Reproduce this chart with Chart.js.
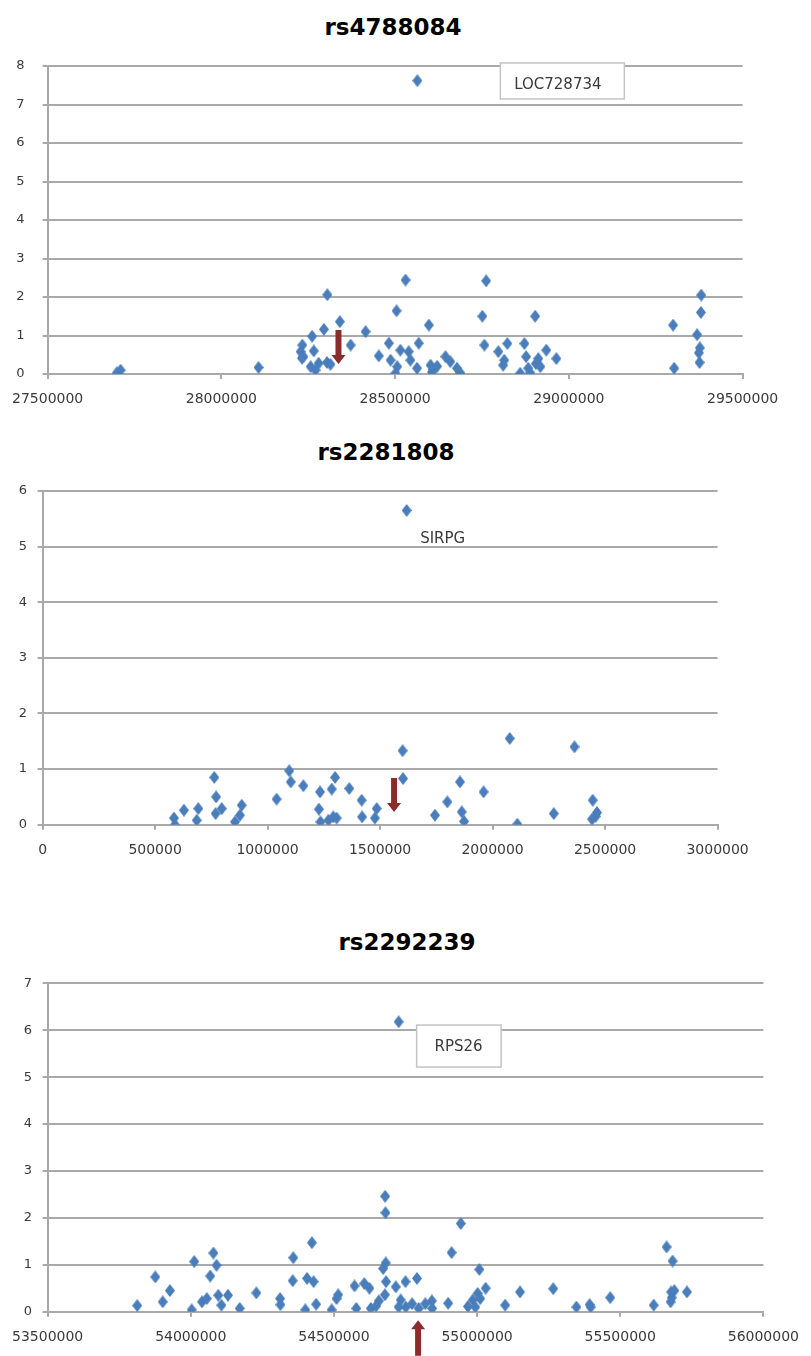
<!DOCTYPE html>
<html>
<head>
<meta charset="utf-8">
<script src="https://cdn.jsdelivr.net/npm/chart.js@4.4.0/dist/chart.umd.min.js"></script>
<style>
  body { margin: 0; background: #fff; width: 811px; height: 1356px; position: relative; overflow: hidden; }
  canvas { position: absolute; left: 0; }
  .title { position: absolute; font: bold 23px "DejaVu Sans", sans-serif; color: #000;
           transform: translate(-50%, -50%); white-space: nowrap; }
</style>
</head>
<body>
<div class="title" style="left:393px; top:27px">rs4788084</div>
<canvas id="c1" width="811" height="415" style="top:0px"></canvas>
<div class="title" style="left:386px; top:452px">rs2281808</div>
<canvas id="c2" width="811" height="440" style="top:420px"></canvas>
<div class="title" style="left:407px; top:942px">rs2292239</div>
<canvas id="c3" width="811" height="496" style="top:860px"></canvas>
<script>
// rs4788084 region (chr16)
const rs4788084Pos = [27699000, 27710000, 28107000, 28228000, 28233000, 28232000, 28236000, 28261000,
  28266000, 28257000, 28271000, 28280000, 28295000, 28305000, 28304000, 28314000, 28341000, 28372000,
  28415000, 28453000, 28482000, 28487000, 28504000, 28506000, 28501000, 28515000, 28530000, 28539000,
  28544000, 28563000, 28568000, 28597000, 28602000, 28606000, 28621000, 28610000, 28645000, 28659000,
  28678000, 28688000, 28751000, 28762000, 28757000, 28797000, 28814000, 28811000, 28823000, 28860000,
  28872000, 28877000, 28883000, 28889000, 28903000, 28905000, 28912000, 28918000, 28935000, 28964000,
  29300000, 29303000, 29369000, 29374000, 29376000, 29377000, 29380000, 29381000, 28564000];
const rs4788084LogP = [0.03, 0.10, 0.17, 0.58, 0.75, 0.41, 0.45, 0.98,
  0.60, 0.19, 0.10, 0.28, 1.16, 2.06, 0.30, 0.25, 1.36, 0.75,
  1.10, 0.47, 0.80, 0.36, 1.64, 0.19, 0.02, 0.62, 2.44, 0.58,
  0.36, 0.15, 0.80, 1.27, 0.23, 0.05, 0.20, 0.12, 0.45, 0.32,
  0.15, 0.02, 1.50, 2.42, 0.75, 0.58, 0.36, 0.23, 0.79, 0.02,
  0.79, 0.45, 0.15, 0.03, 1.50, 0.27, 0.40, 0.19, 0.62, 0.40,
  1.27, 0.15, 1.02, 0.55, 0.30, 0.68, 1.60, 2.05, 7.62];

// rs2281808 region (chr20)
const rs2281808Pos = [584000, 588000, 628000, 692000, 685000, 763000, 771000, 796000, 769000, 855000,
  885000, 877000, 1040000, 1096000, 1103000, 1159000, 1233000, 1228000, 1235000, 1300000, 1285000,
  1292000, 1270000, 1307000, 1363000, 1418000, 1420000, 1477000, 1485000, 1600000, 1602000, 1744000,
  1799000, 1855000, 1863000, 1873000, 1960000, 2076000, 2110000, 2272000, 2364000, 2445000, 2442000,
  2464000, 2458000, 1618000];
const rs2281808LogP = [0.12, 0.00, 0.26, 0.29, 0.08, 0.85, 0.50, 0.29, 0.20, 0.05,
  0.35, 0.17, 0.46, 0.97, 0.77, 0.70, 0.59, 0.28, 0.05, 0.85, 0.64,
  0.14, 0.08, 0.12, 0.65, 0.44, 0.14, 0.12, 0.29, 1.33, 0.83, 0.17,
  0.41, 0.77, 0.23, 0.06, 0.59, 1.55, 0.01, 0.20, 1.40, 0.44, 0.10,
  0.22, 0.15, 5.65];

// rs2292239 region (chr12)
const rs2292239Pos = [53813000, 53876000, 53902000, 53927000, 54003000, 54012000, 54039000, 54056000,
  54068000, 54079000, 54090000, 54096000, 54107000, 54130000, 54171000, 54229000, 54312000, 54313000,
  54358000, 54356000, 54400000, 54406000, 54423000, 54429000, 54438000, 54492000, 54509000, 54515000,
  54572000, 54578000, 54606000, 54624000, 54629000, 54647000, 54657000, 54679000, 54680000, 54681000,
  54672000, 54682000, 54678000, 54716000, 54726000, 54733000, 54750000, 54751000, 54773000, 54790000,
  54796000, 54819000, 54842000, 54843000, 54899000, 54911000, 54943000, 54968000, 54985000, 54994000,
  55008000, 55011000, 55002000, 55030000, 55098000, 55150000, 55266000, 55347000, 55393000, 55397000,
  55465000, 55617000, 55662000, 55683000, 55678000, 55680000, 55676000, 55689000, 55733000, 54726000];
const rs2292239LogP = [0.13, 0.74, 0.21, 0.45, 0.04, 1.07, 0.21, 0.28,
  0.76, 1.25, 0.99, 0.35, 0.14, 0.35, 0.07, 0.40, 0.28, 0.15,
  1.15, 0.66, 0.04, 0.71, 1.47, 0.64, 0.16, 0.04, 0.28, 0.36,
  0.55, 0.07, 0.60, 0.50, 0.07, 0.12, 0.23, 2.46, 2.11, 1.04,
  0.92, 0.64, 0.36, 0.53, 0.10, 0.25, 0.64, 0.10, 0.17, 0.71,
  0.07, 0.17, 0.23, 0.07, 0.18, 1.26, 1.88, 0.11, 0.25, 0.10,
  0.90, 0.28, 0.39, 0.50, 0.14, 0.42, 0.49, 0.10, 0.15, 0.10,
  0.30, 0.14, 1.38, 1.08, 0.42, 0.30, 0.21, 0.45, 0.42, 6.18];

// gene labels for the top hit (last point of each series) and SNP arrows
const geneNames = ['LOC728734', 'SIRPG', 'RPS26'];
const snpPositions = [28337000, 1562000, 54794000];

const BLUE = '#4a7ebb';
const GRID = '#a9a9a9';
const RED = '#8c2b2b';
const FONT = '"DejaVu Sans", sans-serif';

function diamond() {
  const c = document.createElement('canvas');
  c.width = 10; c.height = 13;
  const g = c.getContext('2d');
  g.fillStyle = BLUE;
  g.beginPath();
  g.moveTo(5, 0); g.lineTo(10, 6.5); g.lineTo(5, 13); g.lineTo(0, 6.5);
  g.closePath();
  g.fill();
  return c;
}

function drawArrow(ctx, x, yTail, yTip) {
  const dir = Math.sign(yTip - yTail);
  const yb = yTip - dir * 9;
  ctx.save();
  ctx.fillStyle = RED;
  ctx.beginPath();
  ctx.moveTo(x - 3, yTail); ctx.lineTo(x + 3, yTail); ctx.lineTo(x + 3, yb);
  ctx.lineTo(x + 7, yb); ctx.lineTo(x, yTip); ctx.lineTo(x - 7, yb); ctx.lineTo(x - 3, yb);
  ctx.closePath();
  ctx.fill();
  ctx.restore();
}

function makeChart(id, o) {
  const pts = o.xs.map((x, i) => ({ x: x, y: o.ys[i] }));
  const marks = {
    id: 'marks',
    afterDraw(chart) {
      const ctx = chart.ctx;
      const xs = chart.scales.x, ys = chart.scales.y;
      const hx = xs.getPixelForValue(o.xs[o.xs.length - 1]);
      const hy = ys.getPixelForValue(o.ys[o.ys.length - 1]);
      ctx.save();
      if (o.box) {
        ctx.fillStyle = '#fff';
        ctx.strokeStyle = '#c4c4c4';
        ctx.lineWidth = 1.5;
        ctx.fillRect(hx + o.box[0], hy + o.box[1], o.box[2], o.box[3]);
        ctx.strokeRect(hx + o.box[0], hy + o.box[1], o.box[2], o.box[3]);
      }
      ctx.fillStyle = '#3a3a3a';
      ctx.font = '15px ' + FONT;
      ctx.textAlign = 'center';
      ctx.textBaseline = 'middle';
      ctx.fillText(o.gene, hx + o.labelDx, hy + o.labelDy);
      ctx.restore();
      const ax = xs.getPixelForValue(o.snp);
      drawArrow(ctx, ax, ys.getPixelForValue(o.arrow[0]), ys.getPixelForValue(o.arrow[1]));
    }
  };
  return new Chart(document.getElementById(id), {
    type: 'scatter',
    data: {
      datasets: [{
        data: pts,
        pointStyle: diamond(),
        pointRadius: 5,
        backgroundColor: BLUE,
        borderColor: BLUE
      }]
    },
    options: {
      responsive: false,
      animation: false,
      layout: { padding: { left: 0, top: o.top, right: 811 - o.right, bottom: 0 } },
      plugins: { legend: { display: false }, tooltip: { enabled: false } },
      scales: {
        x: {
          type: 'linear',
          min: o.xMin, max: o.xMax,
          afterFit: s => { s.height = o.height - o.bottom; },
          grid: { drawOnChartArea: false, color: GRID, lineWidth: 2, tickLength: 5 },
          border: { color: GRID, width: 2 },
          ticks: {
            stepSize: 500000, autoSkip: false, maxRotation: 0, padding: 12,
            color: '#3a3a3a', font: { family: FONT, size: 14 },
            callback: v => String(v)
          }
        },
        y: {
          min: 0, max: o.yMax,
          afterFit: s => { s.width = o.left; },
          grid: { color: GRID, lineWidth: 2, tickLength: 5 },
          border: { color: GRID, width: 2 },
          ticks: {
            stepSize: 1, padding: o.yPad,
            color: '#3a3a3a', font: { family: FONT, size: 13 }
          }
        }
      }
    },
    plugins: [marks]
  });
}

makeChart('c1', {
  xs: rs4788084Pos, ys: rs4788084LogP, xMin: 27500000, xMax: 29500000, yMax: 8,
  left: 46.8, right: 742.6, top: 66, bottom: 374, height: 415, yPad: 18,
  gene: geneNames[0], labelDx: 140.5, labelDy: 4.3, box: [83, -17.7, 124, 36],
  snp: snpPositions[0], arrow: [1.14, 0.26]
});
makeChart('c2', {
  xs: rs2281808Pos, ys: rs2281808LogP, xMin: 0, xMax: 3000000, yMax: 6,
  left: 42.6, right: 717.6, top: 71, bottom: 404.7, height: 440, yPad: 10.6,
  gene: geneNames[1], labelDx: 36, labelDy: 28.3, box: null,
  snp: snpPositions[1], arrow: [0.84, 0.23]
});
makeChart('c3', {
  xs: rs2292239Pos, ys: rs2292239LogP, xMin: 53500000, xMax: 56000000, yMax: 7,
  left: 46.8, right: 773.3, top: 123.3, bottom: 451.7, height: 496, yPad: 10.6,
  gene: geneNames[2], labelDx: 60, labelDy: 25.3, box: [18, 3.3, 84.5, 42],
  snp: snpPositions[2], arrow: [-0.94, -0.18]
});
</script>
</body>
</html>
